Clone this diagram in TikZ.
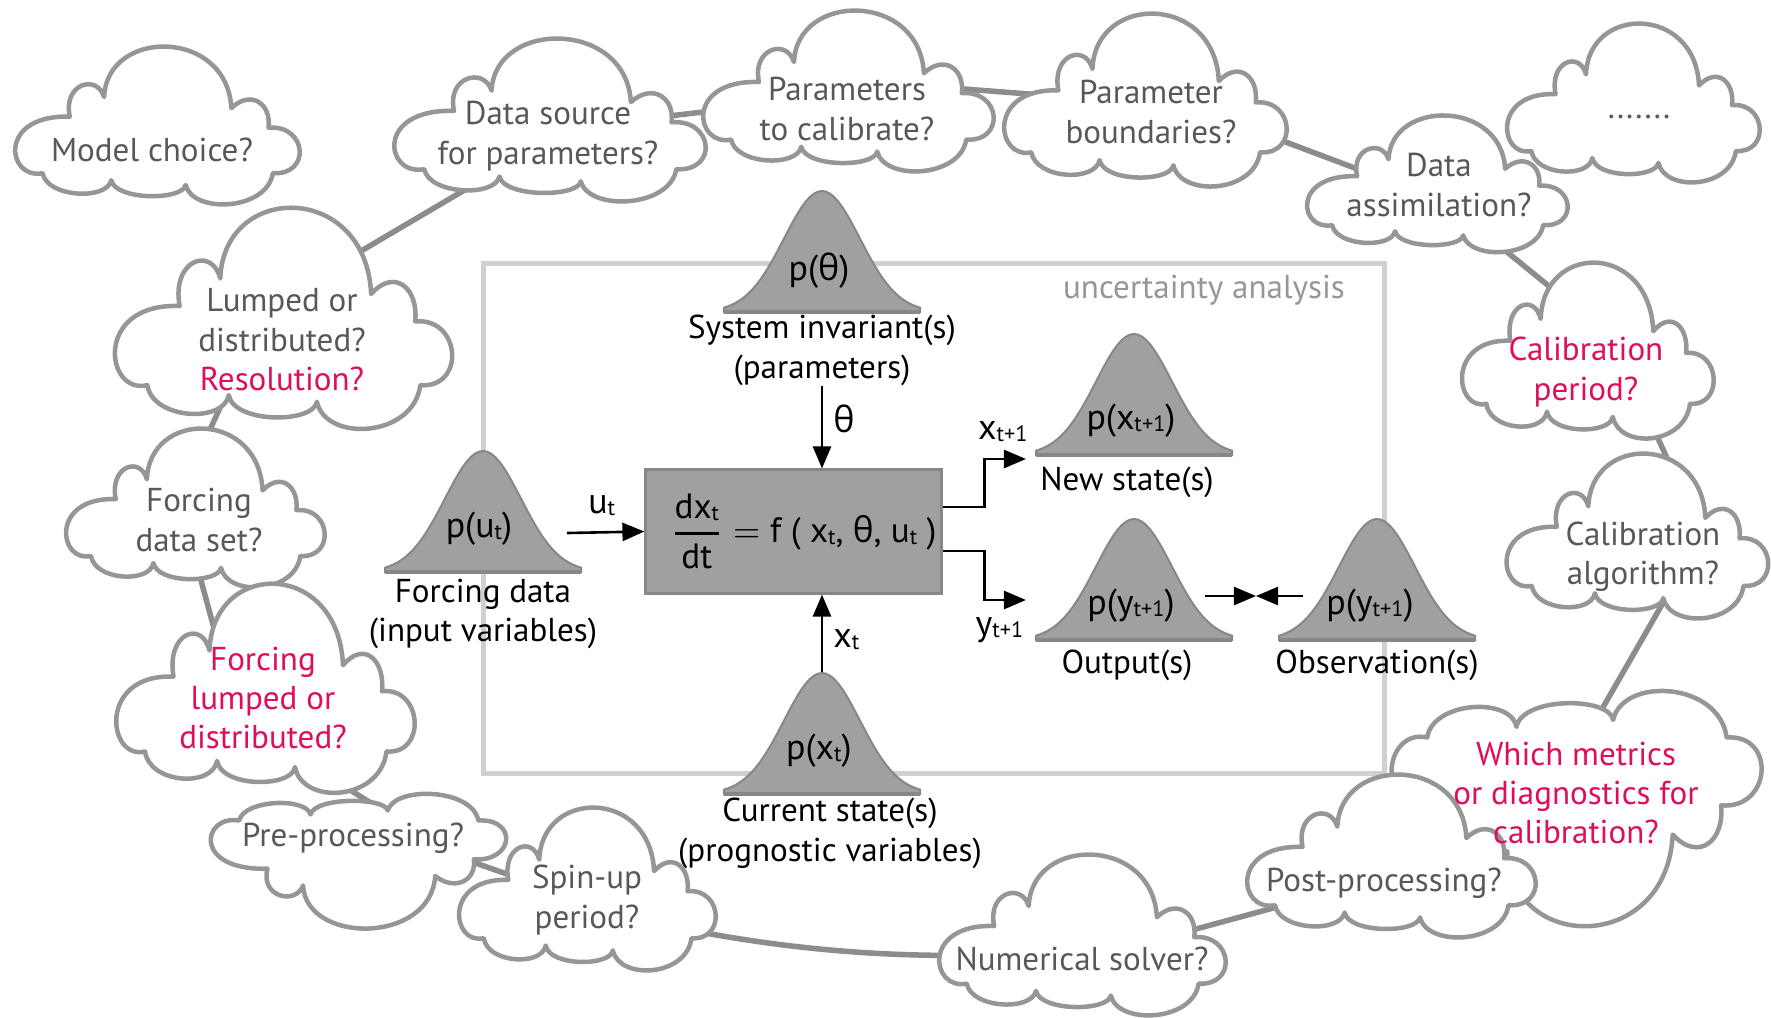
\documentclass[tikz,border=0pt]{standalone}
\usepackage{amsmath}
\usepackage{fontspec}
\setmainfont{PT Sans}
\newfontfamily\grk{Open Sans}
\usetikzlibrary{arrows.meta,positioning,calc}
\definecolor{cloudgray}{RGB}{150,150,150}
\definecolor{linkgray}{RGB}{140,140,140}
\definecolor{qgray}{RGB}{88,88,88}
\definecolor{accent}{RGB}{222,14,92}
\definecolor{bellfill}{RGB}{160,160,160}
\definecolor{belledge}{RGB}{135,135,135}
\definecolor{framegray}{RGB}{208,208,208}
\definecolor{uagray}{RGB}{150,150,150}
\newcommand{\tht}{{\grk θ}}
\newcommand{\subs}[1]{\raisebox{-0.1ex}{\scalebox{0.62}{#1}}}
\tikzset{
  cloudline/.style = {draw=cloudgray, fill=white, line width=0.45mm, line join=round},
  link/.style      = {draw=linkgray, line width=0.55mm},
  qtxt/.style      = {text=qgray, align=center, inner sep=0pt,
                      font=\fontsize{9.4}{11.2}\selectfont},
  qaccent/.style   = {qtxt, text=accent},
  lbl/.style       = {align=center, inner sep=0pt, font=\fontsize{9.4}{11.3}\selectfont},
  plbl/.style      = {inner sep=0pt, font=\fontsize{10.2}{12}\selectfont},
  ualbl/.style     = {text=uagray, inner sep=0pt, font=\fontsize{9.4}{11.2}\selectfont},
  sig/.style       = {-{Triangle[length=2.2mm,width=1.8mm]}, line width=0.26mm},
  uframe/.style    = {draw=framegray, line width=0.5mm},
  eqbox/.style     = {draw=belledge, fill=bellfill, line width=0.3mm, minimum width=2.95cm,
                      minimum height=1.23cm, inner sep=0pt, font=\fontsize{10}{12}\selectfont},
  pics/cloud/.style = {code={
    \path[cloudline] (-0.80,0.62) .. controls (-1.05,0.71) and (-1.12,-0.13) .. (-0.61,-0.10)
      .. controls (-0.66,-0.52) and (-0.42,-0.65) .. (-0.37,-0.35)
      .. controls (-0.35,-1.23) and (0.49,-1.23) .. (0.52,-0.21)
      .. controls (0.66,-0.45) and (0.80,-0.26) .. (0.78,0.04)
      .. controls (1.05,0) and (1.08,0.65) .. (0.81,0.62)
      .. controls (0.77,1.10) and (0.25,1.14) .. (0.20,0.77)
      .. controls (0.18,0.97) and (-0.29,0.97) .. (-0.32,0.71)
      .. controls (-0.35,0.97) and (-0.77,0.93) .. (-0.80,0.62) -- cycle;
  }},
  pics/bell/.style = {code={
    \filldraw[fill=bellfill, draw=belledge, line width=0.2mm]
      (-98,0) -- plot[domain=-98:98, samples=49] (\x,{-121*exp(-\x*\x/2888)}) -- (98,0) -- cycle;
    \draw[belledge, line width=0.35mm] (-98,0) -- (98,0);
  }},
}
\begin{document}
\begin{tikzpicture}[x=0.01cm,y=-0.01cm]
\useasboundingbox (0,0) rectangle (1771,1017);

% uncertainty analysis frame
\draw[uframe] (483,263) rectangle (1384,773);
\node[ualbl] (ua) at (1204,290) {uncertainty analysis};

% model equation
\node[eqbox] (eq) at (793.5,531.5)
  {\hspace*{2mm}$\genfrac{}{}{0.8pt}{0}{\text{dx\subs{t}}}{\text{dt}} = \text{f ( x\subs{t}, \tht, u\subs{t} )}$};

% distributions
\pic at (822,312) {bell};
\node[plbl] (ptheta) at (819,271) {p(\tht)};
\node[lbl] (sysinv) at (822,350) {System invariant(s)\\(parameters)};
\pic at (483,572) {bell};
\node[plbl] (pu) at (479,529) {p(u\subs{t})};
\node[lbl] (forcing) at (483,614) {Forcing data\\(input variables)};
\pic at (1134,455) {bell};
\node[plbl] (pxnew) at (1131,421) {p(x\subs{t+1})};
\node[lbl] (newst) at (1127,482) {New state(s)};
\pic at (1134,640) {bell};
\node[plbl] (pyout) at (1131,606) {p(y\subs{t+1})};
\node[lbl] (outp) at (1127,665) {Output(s)};
\pic at (1377,640) {bell};
\node[plbl] (pyobs) at (1370,606) {p(y\subs{t+1})};
\node[lbl] (obs) at (1377,665) {Observation(s)};
\pic at (822,794) {bell};
\node[plbl] (pxcur) at (819,751) {p(x\subs{t})};
\node[lbl] (curst) at (830,833) {Current state(s)\\(prognostic variables)};

% signals
\coordinate (xcurpk) at (822,672);
\coordinate (uin) at (567,533);
\coordinate (xnin) at (1026,459);
\coordinate (yin) at (1026,600);
\coordinate (cmpl) at (1205,596);
\coordinate (cmpr) at (1303,596);
\coordinate (meet) at (1256,596);
\draw[sig] (sysinv.south) -- node[plbl, right=1mm, pos=0.4] (lth) {\tht} (sysinv.south |- eq.north);
\draw[sig] (xcurpk) -- node[plbl, right=1mm, pos=0.42] (lxt) {x\subs{t}} (xcurpk |- eq.south);
\draw[sig] (uin) -- node[plbl, above=1.5mm, pos=0.45] (lut) {u\subs{t}} (eq.west);
\draw[sig] ($(eq.east)+(0,-24.5)$) -- ++(42,0) |- node[plbl, above=1.6mm, pos=0.72] (lxn) {x\subs{t+1}} (xnin);
\draw[sig] ($(eq.east)+(0,19.5)$) -- ++(42,0) |- node[plbl, below=1.6mm, pos=0.68] (lyn) {y\subs{t+1}} (yin);
\draw[sig] (cmpl) -- (meet);
\draw[sig] (cmpr) -- (meet);

% cloud centres
\coordinate (model) at (157,124.5);
\coordinate (datasrc) at (549.5,119);
\coordinate (params) at (848,90);
\coordinate (parbnd) at (1145,99);
\coordinate (dots) at (1633,102);
\coordinate (dataass) at (1437,183);
\coordinate (calper) at (1587.5,349.5);
\coordinate (calalg) at (1637,535);
\coordinate (whichm) at (1576,810);
\coordinate (postp) at (1391,855);
\coordinate (numsol) at (1082,934);
\coordinate (spinup) at (587,888);
\coordinate (preproc) at (358,862);
\coordinate (forclump) at (265,687);
\coordinate (forcdata) at (195,507);
\coordinate (lumped) at (283,317);

% links
\draw[link] ($(lumped)+(0,-20)$) -- ($(datasrc)+(0,21)$);
\draw[link] ($(datasrc)+(0,11)$) -- ($(params)+(0,5)$);
\draw[link] ($(params)+(0,-10)$) -- ($(parbnd)+(0,4)$);
\draw[link] ($(parbnd)+(0,-10)$) -- ($(dataass)+(0,16)$);
\draw[link] ($(dataass)+(0,12)$) -- ($(calper)+(0,-32)$);
\draw[link] ($(calper)+(30,0)$) -- ($(calalg)+(65,0)$);
\draw[link] ($(calalg)+(65,0)$) -- ($(whichm)+(-32,0)$);
\draw[link] ($(postp)+(0,21)$) -- ($(numsol)+(0,26)$);
\draw[link] ($(spinup)+(0,18)$) .. controls ($(spinup)+(165,63)$) and ($(numsol)+(-165,31)$) .. ($(numsol)+(0,15)$);
\draw[link] ($(spinup)+(0,14)$) -- ($(preproc)+(0,-40)$);
\draw[link] ($(preproc)+(82,-16)$) -- ($(forclump)+(0,50)$);
\draw[link] ($(forclump)+(-35,0)$) -- ($(forcdata)+(-14,0)$);
\draw[link] ($(forcdata)+(-20,0)$) -- ($(lumped)+(-22,0)$);

% clouds
\pic[xscale=143,yscale=78.5] at (model) {cloud};
\pic[xscale=156.5,yscale=81] at (datasrc) {cloud};
\pic[xscale=146,yscale=80] at (params) {cloud};
\pic[xscale=142,yscale=86] at (parbnd) {cloud};
\pic[xscale=127,yscale=79] at (dots) {cloud};
\pic[xscale=131,yscale=68] at (dataass) {cloud};
\pic[xscale=126.5,yscale=87.5] at (calper) {cloud};
\pic[xscale=131.5,yscale=82] at (calalg) {cloud};
\pic[xscale=186,yscale=-117] at (whichm) {cloud};
\pic[xscale=145,yscale=81] at (postp) {cloud};
\pic[xscale=144,yscale=80] at (numsol) {cloud};
\pic[xscale=129,yscale=81] at (spinup) {cloud};
\pic[xscale=148.5,yscale=-67] at (preproc) {cloud};
\pic[xscale=130,yscale=79] at (forcdata) {cloud};
\pic[xscale=150,yscale=104] at (forclump) {cloud};
\pic[xscale=169.5,yscale=110] at (lumped) {cloud};

% questions
\node[qtxt] (t-model) at (152,150) {Model choice?};
\node[qtxt] (t-datasrc) at (548,136) {Data source\\for parameters?};
\node[qtxt] (t-params) at (847,109) {Parameters\\to calibrate?};
\node[qtxt] (t-parbnd) at (1151,112) {Parameter\\boundaries?};
\node[qtxt] (t-dots) at (1639,117) {.......};
\node[qtxt] (t-dataass) at (1439,185) {Data\\assimilation?};
\node[qaccent] (t-calper) at (1586,372) {Calibration\\period?};
\node[qtxt] (t-calalg) at (1643,557) {Calibration\\algorithm?};
\node[qaccent] (t-whichm) at (1576,793) {Which metrics\\or diagnostics for\\calibration?};
\node[qtxt] (t-postp) at (1384,883) {Post-processing?};
\node[qtxt] (t-numsol) at (1082,959) {Numerical solver?};
\node[qtxt] (t-spinup) at (587,900) {Spin-up\\period?};
\node[qtxt] (t-preproc) at (353,838) {Pre-processing?};
\node[qaccent] (t-forclump) at (263,698) {Forcing\\lumped or\\distributed?};
\node[qtxt] (t-forcdata) at (199,520) {Forcing\\data set?};
\node[qtxt] (t-lumped) at (282,340) {Lumped or\\distributed?\\\textcolor{accent}{Resolution?}};
\end{tikzpicture}
\end{document}
